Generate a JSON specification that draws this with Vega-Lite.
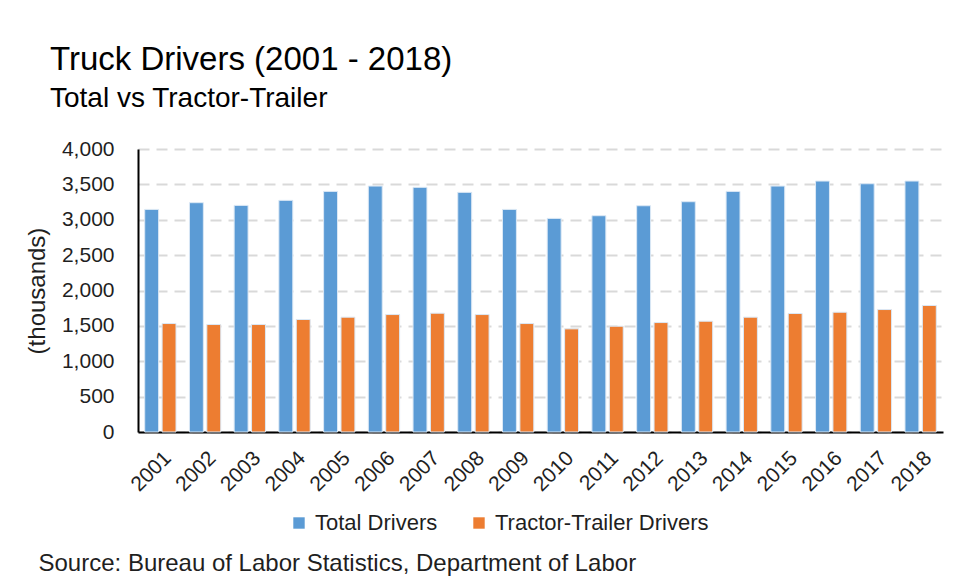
{
  "$schema": "https://vega.github.io/schema/vega-lite/v6.json",
  "width": 805,
  "height": 283,
  "autosize": {"type": "none"},
  "padding": {"left": 138, "top": 149, "right": 18, "bottom": 150},
  "background": "white",
  "title": {
    "text": "Truck Drivers (2001 - 2018)",
    "subtitle": "Total vs Tractor-Trailer",
    "anchor": "start",
    "frame": "group",
    "dx": -88,
    "offset": 25,
    "font": "Liberation Sans",
    "fontSize": 33,
    "fontWeight": "normal",
    "color": "#000000",
    "subtitleFont": "Liberation Sans",
    "subtitleFontSize": 28,
    "subtitleColor": "#000000",
    "subtitlePadding": 8
  },
  "data": {
    "values": [
      {"year": "2001", "series": "Total Drivers", "value": 3146},
      {"year": "2001", "series": "Tractor-Trailer Drivers", "value": 1533},
      {"year": "2002", "series": "Total Drivers", "value": 3241},
      {"year": "2002", "series": "Tractor-Trailer Drivers", "value": 1519},
      {"year": "2003", "series": "Total Drivers", "value": 3203},
      {"year": "2003", "series": "Tractor-Trailer Drivers", "value": 1519},
      {"year": "2004", "series": "Total Drivers", "value": 3274},
      {"year": "2004", "series": "Tractor-Trailer Drivers", "value": 1590},
      {"year": "2005", "series": "Total Drivers", "value": 3401},
      {"year": "2005", "series": "Tractor-Trailer Drivers", "value": 1623},
      {"year": "2006", "series": "Total Drivers", "value": 3476},
      {"year": "2006", "series": "Tractor-Trailer Drivers", "value": 1660},
      {"year": "2007", "series": "Total Drivers", "value": 3458},
      {"year": "2007", "series": "Tractor-Trailer Drivers", "value": 1679},
      {"year": "2008", "series": "Total Drivers", "value": 3387},
      {"year": "2008", "series": "Tractor-Trailer Drivers", "value": 1660},
      {"year": "2009", "series": "Total Drivers", "value": 3146},
      {"year": "2009", "series": "Tractor-Trailer Drivers", "value": 1533},
      {"year": "2010", "series": "Total Drivers", "value": 3019},
      {"year": "2010", "series": "Tractor-Trailer Drivers", "value": 1458},
      {"year": "2011", "series": "Total Drivers", "value": 3057},
      {"year": "2011", "series": "Tractor-Trailer Drivers", "value": 1495},
      {"year": "2012", "series": "Total Drivers", "value": 3198},
      {"year": "2012", "series": "Tractor-Trailer Drivers", "value": 1547},
      {"year": "2013", "series": "Total Drivers", "value": 3255},
      {"year": "2013", "series": "Tractor-Trailer Drivers", "value": 1566},
      {"year": "2014", "series": "Total Drivers", "value": 3401},
      {"year": "2014", "series": "Tractor-Trailer Drivers", "value": 1623},
      {"year": "2015", "series": "Total Drivers", "value": 3476},
      {"year": "2015", "series": "Tractor-Trailer Drivers", "value": 1675},
      {"year": "2016", "series": "Total Drivers", "value": 3547},
      {"year": "2016", "series": "Tractor-Trailer Drivers", "value": 1693},
      {"year": "2017", "series": "Total Drivers", "value": 3509},
      {"year": "2017", "series": "Tractor-Trailer Drivers", "value": 1731},
      {"year": "2018", "series": "Total Drivers", "value": 3547},
      {"year": "2018", "series": "Tractor-Trailer Drivers", "value": 1788}
    ]
  },
  "mark": {"type": "bar", "stroke": "#dbe8f5", "strokeWidth": 1},
  "encoding": {
    "x": {
      "field": "year",
      "type": "ordinal",
      "scale": {"paddingInner": 0.3, "paddingOuter": 0.15},
      "axis": {
        "labelAngle": -45,
        "labelFontSize": 21,
        "labelColor": "#1f1f1f",
        "ticks": false,
        "domainColor": "#000000",
        "domainWidth": 2,
        "labelPadding": 15,
        "title": "Source: Bureau of Labor Statistics, Department of Labor",
        "titleX": -100,
        "titleY": 138,
        "titleAlign": "left",
        "titleBaseline": "alphabetic",
        "titleFontSize": 24,
        "titleFontWeight": "normal",
        "titleColor": "#1f1f1f"
      }
    },
    "xOffset": {
      "field": "series",
      "sort": ["Total Drivers", "Tractor-Trailer Drivers"],
      "scale": {"paddingInner": 0.2}
    },
    "y": {
      "field": "value",
      "type": "quantitative",
      "scale": {"domain": [0, 4000]},
      "axis": {
        "values": [0, 500, 1000, 1500, 2000, 2500, 3000, 3500, 4000],
        "format": ",d",
        "title": "(thousands)",
        "titleFontSize": 24,
        "titleFontWeight": "normal",
        "titleColor": "#1f1f1f",
        "titlePadding": 12,
        "grid": true,
        "gridDash": [11, 7],
        "gridColor": "#d9d9d9",
        "gridWidth": 2,
        "ticks": false,
        "domainColor": "#000000",
        "domainWidth": 2,
        "labelPadding": 24,
        "labelFontSize": 21,
        "labelColor": "#1f1f1f"
      }
    },
    "color": {
      "field": "series",
      "scale": {
        "domain": ["Total Drivers", "Tractor-Trailer Drivers"],
        "range": ["#5B9BD5", "#ED7D31"]
      },
      "legend": {
        "orient": "none",
        "legendX": 150,
        "legendY": 363,
        "direction": "horizontal",
        "title": null,
        "labelFontSize": 22,
        "labelLimit": 400,
        "labelColor": "#1f1f1f",
        "symbolType": "square",
        "symbolSize": 130,
        "symbolStrokeWidth": 0,
        "columnPadding": 30,
        "labelOffset": 5
      }
    }
  },
  "config": {"view": {"stroke": null}, "font": "Liberation Sans"}
}
